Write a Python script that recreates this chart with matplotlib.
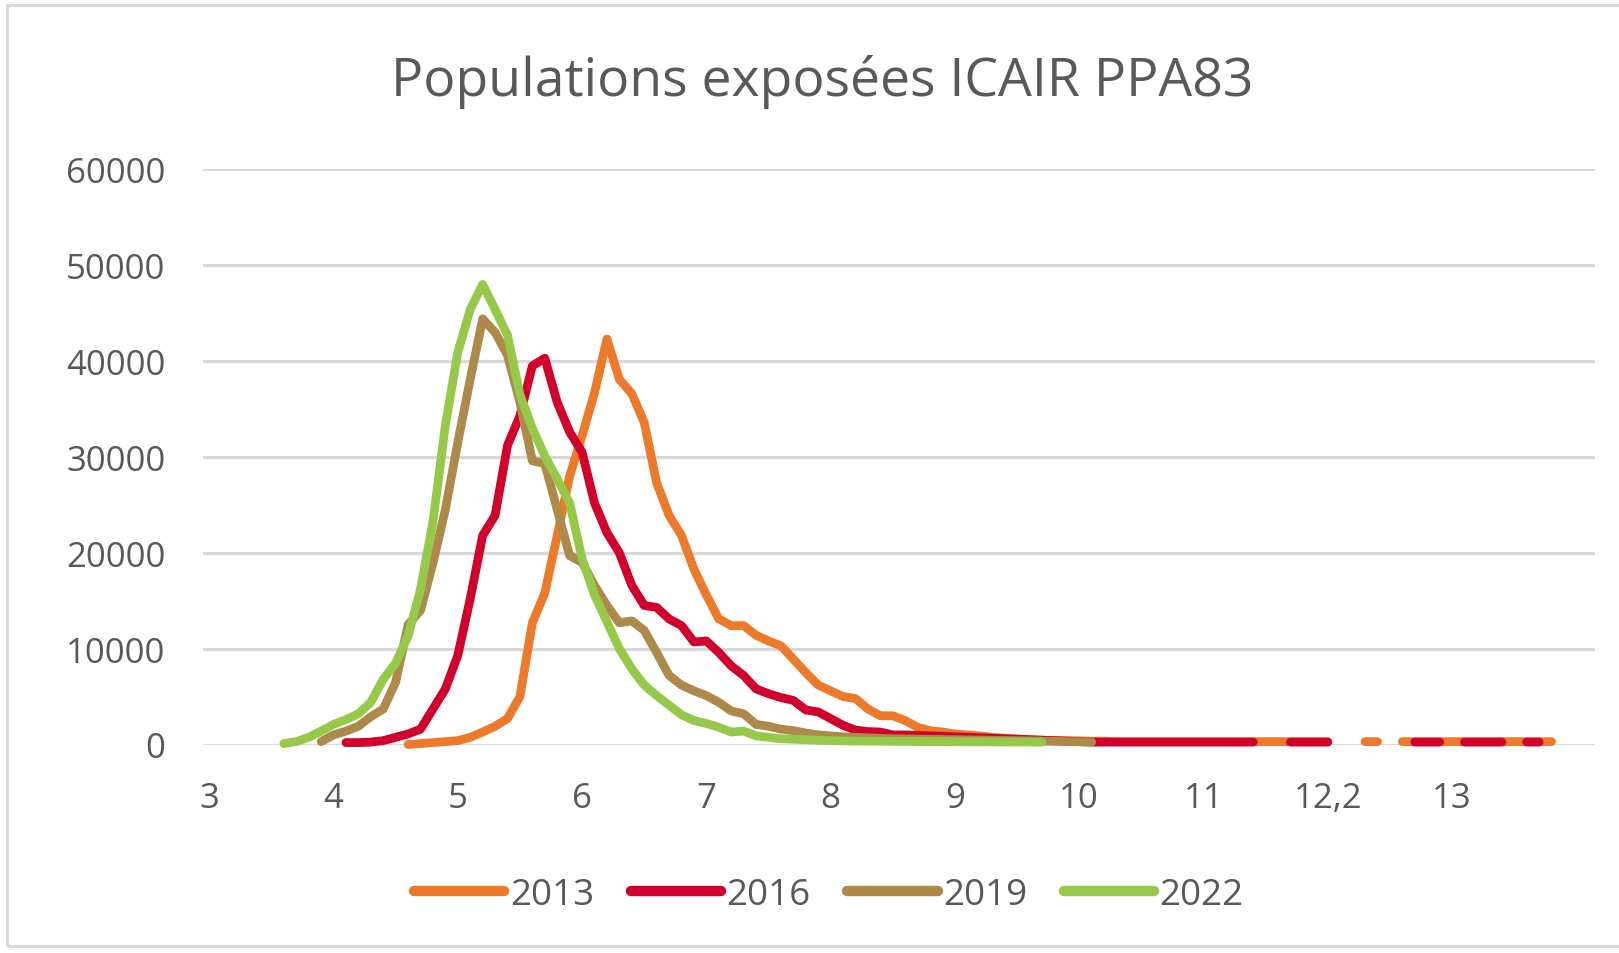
import numpy as np
import matplotlib.pyplot as plt
from matplotlib.patches import Rectangle

plt.rcParams['font.family'] = ['Open Sans', 'DejaVu Sans']

# category axis: one category every 0.1, a label every 10 categories
n_cat = 112
tick_labels = ["3", "4", "5", "6", "7", "8", "9", "10", "11", "12,2", "13"]

years = ["2013", "2016", "2019", "2022"]
colors = ["#EC7A2A", "#D1002C", "#AD8A4A", "#96C94A"]

# each series starts at a given category index; None = missing value
start_2013 = 16
vals_2013 = [0, 100, 200, 300, 400, 750, 1300, 1900, 2700, 5000,
             12700, 15800, 21800, 28000, 32200, 36700, 42300, 38100, 36600, 33600,
             27300, 23900, 21800, 18300, 15600, 13100, 12400, 12400, 11400, 10800,
             10300, 8900, 7500, 6200, 5600, 5000, 4800, 3700, 3000, 3000,
             2500, 1800, 1450, 1300, 1100, 1000, 900, 750, 650, 570,
             500, 450, 420, 400, 380, 350, 350, 300, 300, 300,
             300, 300, 300, 300, 300, 300, 300, 300, 300, 300,
             300, 300, 300, 300, 300, None, None, 300, 300, None,
             300, 300, 300, 300, 300, 300, 300, 300, 300, 300,
             300, 300, 300]

start_2016 = 11
vals_2016 = [200, 200, 250, 400, 750, 1100, 1600, 3700, 5800, 9300,
             15200, 21800, 23900, 31200, 34300, 39500, 40300, 35700, 32600, 30500,
             25200, 22100, 20000, 16600, 14500, 14300, 13100, 12400, 10700, 10800,
             9600, 8200, 7200, 5800, 5300, 4900, 4600, 3600, 3400, 2700,
             2000, 1500, 1350, 1300, 1000, 1000, 950, 900, 850, 800,
             750, 700, 650, 600, 550, 500, 450, 400, 350, 300,
             250, 250, 250, 250, 250, 250, 250, 250, 250, 250,
             250, 250, 250, 250, None, None, 250, 250, 250, 250,
             None, None, None, None, None, None, 250, 250, 250, None,
             250, 250, 250, 250, None, 250, 250]

start_2019 = 9
vals_2019 = [300, 1000, 1400, 1900, 2900, 3700, 6500, 12500, 14000, 18900,
             24500, 31500, 38100, 44400, 43000, 40600, 35700, 29600, 29300, 24500,
             19700, 19000, 16600, 14500, 12700, 12900, 11900, 9600, 7200, 6200,
             5600, 5100, 4400, 3500, 3200, 2100, 1900, 1600, 1450, 1200,
             1000, 900, 800, 750, 700, 650, 600, 580, 560, 540,
             520, 500, 480, 460, 440, 420, 400, 380, 350, 330,
             300, 280, 250]

start_2022 = 6
vals_2022 = [100, 300, 750, 1400, 2100, 2600, 3200, 4400, 6800, 8500,
             11300, 16200, 23200, 33300, 40900, 45400, 48000, 45400, 42700, 36500,
             33000, 30100, 27700, 25200, 19400, 15600, 12800, 10000, 7900, 6200,
             5100, 4100, 3100, 2500, 2200, 1800, 1300, 1400, 900, 750,
             600, 550, 500, 450, 400, 380, 360, 350, 340, 330,
             320, 310, 300, 300, 290, 280, 280, 270, 260, 260,
             250, 250]


def full_series(start, vals):
    y = np.full(n_cat, np.nan)
    y[start:start + len(vals)] = [np.nan if v is None else v for v in vals]
    return y


series = [full_series(start_2013, vals_2013), full_series(start_2016, vals_2016),
          full_series(start_2019, vals_2019), full_series(start_2022, vals_2022)]

W, H = 1619, 954
fig = plt.figure(figsize=(W / 100, H / 100), dpi=100)
fig.patches.append(Rectangle((7 / W, 1 - 947 / H), 1.05, 941 / H, transform=fig.transFigure,
                             fill=False, edgecolor="#d9d9d9", lw=2.2))

ax = fig.add_axes([203 / W, 1 - 745.5 / H, (1595 - 203) / W, (745.5 - 170.4) / H])
x = np.arange(n_cat)
for yr, y, c in zip(years, series, colors):
    ax.plot(x, y, color=c, lw=6.3, solid_capstyle="round", solid_joinstyle="round",
            label=yr, clip_on=False, zorder=3)

ax.set_xlim(-0.5, n_cat - 0.5)
ax.set_ylim(0, 60000)
ax.set_yticks(range(0, 60001, 10000))
ax.set_xticks(range(0, 10 * len(tick_labels), 10))
ax.set_xticklabels(tick_labels)
ax.grid(axis="y", color="#d9d9d9", lw=2.2)
ax.set_axisbelow(True)
for s in ax.spines.values():
    s.set_visible(False)
ax.tick_params(axis="both", length=0, labelsize=25, labelcolor="#595959")
ax.tick_params(axis="y", pad=27)
ax.tick_params(axis="x", pad=26)

fig.text(822 / W, 1 - 82 / H, "Populations exposées ICAIR PPA83", ha="center", va="center",
         fontsize=38.5, color="#595959")

leg = ax.legend(loc="center", bbox_to_anchor=(829 / W, 1 - 896 / H), bbox_transform=fig.transFigure,
                ncol=4, frameon=False, fontsize=26.5, handlelength=2.45, handletextpad=0.15,
                columnspacing=1.0, labelcolor="#595959")
for h in leg.get_lines():
    h.set_linewidth(7.5)

fig.savefig("out.png", dpi=100)
